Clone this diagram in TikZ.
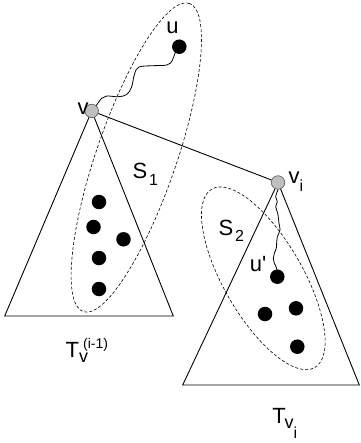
\documentclass[tikz,border=0pt]{standalone}
\usepackage{fontspec}
\setmainfont{Liberation Sans}
\newcommand\subfont{\fontsize{16}{16}\selectfont}
\newcommand\midfont{\fontsize{18}{18}\selectfont}
\newcommand\supfont{\fontsize{14}{14}\selectfont}
\begin{document}
\begin{tikzpicture}[x=1pt,y=-1pt,
  edge/.style={line width=0.9pt},
  setline/.style={dash pattern=on 3pt off 2pt, line width=0.6pt},
  dot/.style={circle, fill=black, inner sep=0pt, minimum size=14.5pt},
  gnode/.style={circle, fill=black!25, draw=black!60, line width=0.7pt, inner sep=0pt, minimum size=13.5pt},
  lbl/.style={inner sep=0pt, anchor=base west, font=\fontsize{22}{26}\selectfont},
  wave/.style={line width=0.8pt}]
\useasboundingbox (0,0) rectangle (360,443);
% positions
\coordinate (pv) at (91.7,111);
\coordinate (pvi) at (278,182.5);
\coordinate (L1) at (4.7,316);
\coordinate (L2) at (173.3,316);
\coordinate (R1) at (182.7,385);
\coordinate (R2) at (359.3,385);
% triangles
\draw[edge] (L1) -- (pv) -- (L2) -- cycle;
\draw[edge] (R1) -- (pvi) -- (R2) -- cycle;
% sets
\draw[setline] (136.3,157.5) ellipse [x radius=163pt, y radius=40pt, rotate=71];
\draw[setline] (263.3,278.3) ellipse [x radius=103pt, y radius=39.5pt, rotate=-60];
% vertices
\node[gnode] (v) at (pv) {};
\node[gnode] (vi) at (pvi) {};
\node[dot] (u) at (179.3,46.7) {};
\node[dot] (up) at (277.3,276.7) {};
\node[dot] (a1) at (99,202) {};
\node[dot] (a2) at (93.5,227) {};
\node[dot] (a3) at (123.5,239.3) {};
\node[dot] (a4) at (99,258) {};
\node[dot] (a5) at (99,289) {};
\node[dot] (b1) at (265,314) {};
\node[dot] (b2) at (296,308.3) {};
\node[dot] (b3) at (297.3,346.7) {};
% edges
\draw[edge] (v) -- (vi);
\draw[wave] plot[smooth, tension=0.6] coordinates {(v.50) (101.7,98.3) (106.7,96) (118.3,96.7) (126.7,94.5) (131.7,86.7) (134.5,74) (139,67) (153.3,65.7) (166.7,65) (172,61) (175,53.3) (u)};
\draw[wave] plot[smooth, tension=0.6] coordinates {(vi.south) (275.7,196.7) (277.3,201.7) (275.7,206.7) (277.7,213.3) (279,223.3) (280,230) (277.3,236.7) (276.7,241.7) (276.3,248.3) (274.3,253.3) (273.3,258.3) (274.3,263.3) (276.7,268.3) (up)};
% labels
\node[lbl] (lu) at (166.2,34) {u};
\node[lbl] (lv) at (77.4,115) {v};
\node[lbl] (lvi) at (288.4,184) {v\raisebox{-7.7pt}{\subfont i}};
\node[lbl] (lup) at (249.6,271.7) {u\textquotesingle};
\node[lbl] (ls1) at (132.3,179) {S\kern2pt\raisebox{-6.7pt}{\subfont 1}};
\node[lbl] (ls2) at (218.3,235) {S\kern2pt\raisebox{-6.7pt}{\subfont 2}};
\node[lbl] (lt1) at (65.5,357.3) {T\rlap{\raisebox{-5.4pt}{\midfont v}}\kern4pt\raisebox{8.8pt}{\supfont(i-1)}};
\node[lbl] (lt2) at (272.2,423.3) {T\kern-1.2pt\raisebox{-5pt}{\midfont v\raisebox{-10pt}{\subfont i}}};
\end{tikzpicture}
\end{document}
